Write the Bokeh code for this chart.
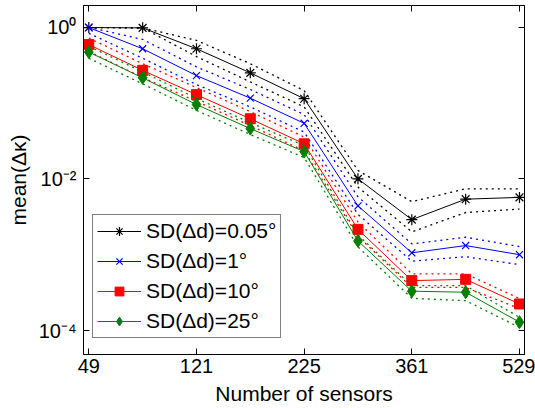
import numpy as np
from bokeh.plotting import figure
from bokeh.models import (FixedTicker, Legend, LegendItem, LinearAxis, LogAxis,
                          CustomJSTickFormatter, Range1d)
from bokeh.embed import file_html
from bokeh.resources import INLINE

sensors = [49, 81, 121, 169, 225, 289, 361, 441, 529]
tick_sensors = [49, 121, 225, 361, 529]
y_ticks = [1e-4, 1e-2, 1.0]

labels = ["SD(Δd)=0.05°", "SD(Δd)=1°", "SD(Δd)=10°", "SD(Δd)=25°"]

black_mean = [0.99, 0.98, 0.52, 0.25, 0.114, 0.0100, 0.0029, 0.0054, 0.0057]
black_upper = [0.99, 0.98, 0.67, 0.33, 0.146, 0.0129, 0.0050, 0.0074, 0.0074]
black_lower = [0.99, 0.98, 0.41, 0.19, 0.089, 0.0078, 0.0020, 0.0036, 0.0040]

blue_mean = [0.99, 0.52, 0.23, 0.116, 0.054, 0.0044, 0.00106, 0.00132, 0.00100]
blue_upper = [1.0, 0.69, 0.30, 0.151, 0.0705, 0.0058, 0.00139, 0.00170, 0.00128]
blue_lower = [0.83, 0.39, 0.175, 0.089, 0.0414, 0.0034, 0.00082, 0.00094, 0.00074]

red_mean = [0.59, 0.27, 0.129, 0.062, 0.029, 0.00216, 0.000455, 0.000473, 0.000224]
red_upper = [0.72, 0.33, 0.16, 0.077, 0.0356, 0.0027, 0.00056, 0.00056, 0.000264]
red_lower = [0.48, 0.217, 0.105, 0.0505, 0.0234, 0.00175, 0.00037, 0.00037, 0.000195]

green_mean = [0.47, 0.215, 0.0955, 0.046, 0.0229, 0.00152, 0.00033, 0.00032, 0.000129]
green_upper = [0.56, 0.258, 0.115, 0.055, 0.0275, 0.00182, 0.00039, 0.00039, 0.000149]
green_lower = [0.39, 0.179, 0.080, 0.0384, 0.0191, 0.00127, 0.000266, 0.000248, 0.000110]

FONT = "Liberation Sans"

x = [float(np.sqrt(n)) for n in sensors]
xt = [float(np.sqrt(n)) for n in tick_sensors]

p = figure(width=535, height=408, output_backend="svg", toolbar_location=None,
           y_axis_type="log",
           x_range=Range1d(6.803, 23.186), y_range=Range1d(4.83e-5, 1.933),
           min_border_left=83, min_border_right=11, min_border_top=5, min_border_bottom=54)
p.grid.visible = False
p.outline_line_color = "black"
p.outline_line_width = 1
p.background_fill_color = "white"
p.border_fill_color = "white"

xfmt = CustomJSTickFormatter(code="return String(Math.round(tick*tick));")
yfmt = CustomJSTickFormatter(code="""
const e = Math.round(Math.log10(tick));
const sup = {"0":"\u2070","1":"\u00b9","2":"\u00b2","3":"\u00b3","4":"\u2074","-":"\u207b"};
return "10" + String(e).split("").map(c => sup[c]).join("");
""")
blank = CustomJSTickFormatter(code="return '';")

def style_axis(ax, show):
    ax.major_tick_in = 6
    ax.major_tick_out = 0
    ax.minor_tick_line_color = None
    ax.axis_line_color = "black"
    ax.major_tick_line_color = "black"
    ax.major_label_text_font = FONT
    ax.major_label_text_color = "black"
    ax.axis_label_text_font = FONT
    ax.axis_label_text_font_style = "normal"
    ax.axis_label_text_color = "black"
    ax.axis_label_text_font_size = "21px"
    if show:
        ax.major_label_text_font_size = "20px"
    else:
        ax.major_label_text_font_size = "0px"
        ax.major_label_standoff = 0

xa = p.xaxis[0]
xa.ticker = FixedTicker(ticks=xt)
xa.formatter = xfmt
style_axis(xa, True)
xa.major_label_standoff = 4
xa.axis_label = "Number of sensors"
xa.axis_label_standoff = 6

ya = p.yaxis[0]
ya.ticker = FixedTicker(ticks=y_ticks)
ya.formatter = yfmt
style_axis(ya, True)
ya.major_label_standoff = 7
ya.axis_label = "mean(Δκ)"
ya.axis_label_standoff = 6

top = LinearAxis(ticker=FixedTicker(ticks=xt), formatter=blank)
style_axis(top, False)
p.add_layout(top, "above")
right = LogAxis(ticker=FixedTicker(ticks=y_ticks), formatter=blank)
style_axis(right, False)
p.add_layout(right, "right")

series = [
    (black_mean, black_upper, black_lower, "black", "asterisk", 11),
    (blue_mean, blue_upper, blue_lower, "blue", "x", 10),
    (red_mean, red_upper, red_lower, "red", "square", 10),
    (green_mean, green_upper, green_lower, "#008000", "diamond", 13),
]

items = []
for (m, u, l, c, mk, sz), lab in zip(series, labels):
    p.line(x, u, line_color=c, line_width=1.3, line_dash="2 4")
    p.line(x, l, line_color=c, line_width=1.3, line_dash="2 4")
    r1 = p.line(x, m, line_color=c, line_width=1)
    if mk in ("asterisk", "x"):
        r2 = p.scatter(x, m, marker=mk, size=sz, line_color=c, line_width=1.2)
    else:
        r2 = p.scatter(x, m, marker=mk, size=sz, line_color=c, fill_color=c)
    items.append(LegendItem(label=lab, renderers=[r1, r2]))

legend = Legend(items=items, location=(9, 16), orientation="vertical")
legend.label_text_font = FONT
legend.label_text_font_size = "21px"
legend.label_text_color = "black"
legend.glyph_width = 44
legend.glyph_height = 22
legend.label_height = 22
legend.label_standoff = 5
legend.spacing = 6
legend.padding = 4
legend.margin = 0
legend.border_line_color = "black"
legend.border_line_width = 1
legend.background_fill_color = "white"
legend.background_fill_alpha = 1
p.add_layout(legend, "center")

open("out.html", "w").write(file_html(p, INLINE))
